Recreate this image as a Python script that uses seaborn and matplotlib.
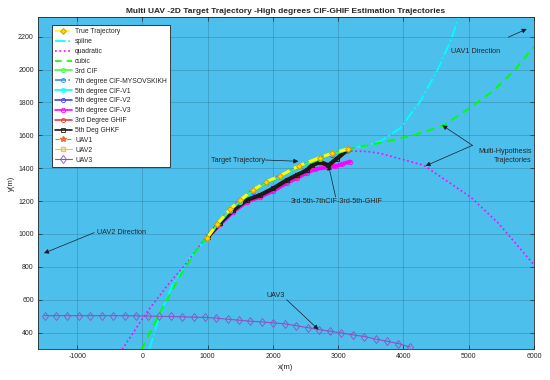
import numpy as np
import pandas as pd
import matplotlib
matplotlib.use("Agg")
import matplotlib.pyplot as plt
import seaborn as sns

# ---------------- data ----------------
true_x = [985, 1150, 1340, 1500, 1690, 1900, 2110, 2400, 2720, 2900, 3150]
true_y = [976, 1062, 1150, 1207, 1266, 1318, 1354, 1415, 1465, 1490, 1518]

cif3_y = [972, 1058, 1144, 1201, 1260, 1312, 1348, 1408, 1458, 1484, 1514]
cif7_y = [974, 1060, 1146, 1203, 1262, 1315, 1351, 1411, 1461, 1487, 1516]
cifv1_y = [970, 1055, 1141, 1197, 1256, 1308, 1344, 1404, 1455, 1481, 1512]
cifv2_y = [971, 1056, 1142, 1199, 1258, 1310, 1346, 1406, 1456, 1482, 1513]

low_x = [1005, 1185, 1390, 1595, 1800, 2005, 2210, 2364, 2518, 2595, 2723, 2851, 2980, 3133]
ghkf_y = [984, 1065, 1145, 1206, 1236, 1277, 1327, 1358, 1388, 1418, 1438, 1418, 1459, 1509]
ghif_y = [982, 1062, 1141, 1201, 1232, 1273, 1322, 1354, 1384, 1413, 1433, 1414, 1455, 1505]
cifv3_x = [1005, 1185, 1390, 1595, 1800, 2005, 2210, 2364, 2518, 2650, 2830, 2950, 3060, 3180]
cifv3_y = [980, 1058, 1135, 1195, 1225, 1262, 1310, 1340, 1372, 1395, 1405, 1412, 1425, 1440]

spline_x = [108, 262, 450, 700, 985, 1340, 1690, 2110, 2720, 3150, 3400, 3646, 3954, 4262, 4518, 4723, 4846]
spline_y = [300, 500, 680, 840, 976, 1150, 1266, 1354, 1465, 1518, 1535, 1565, 1645, 1810, 1995, 2175, 2320]

quad_x = [-310, 60, 370, 680, 925, 1340, 1690, 2110, 2720, 3133, 3441, 3646, 4310, 5030, 5450, 6000]
quad_y = [297, 520, 680, 825, 955, 1153, 1272, 1358, 1467, 1505, 1502, 1490, 1418, 1224, 1067, 812]

cubic_x = [-15, 262, 570, 877, 985, 1340, 1690, 2110, 2720, 3150, 3441, 3646, 4150, 4615, 5030, 5385, 5700, 6000]
cubic_y = [297, 515, 741, 930, 976, 1148, 1264, 1352, 1464, 1518, 1539, 1555, 1600, 1660, 1770, 1875, 1995, 2140]

uav3_x = [-1500, -1325, -1150, -975, -800, -625, -450, -270, -95, 80, 260, 435, 610, 785, 960,
          1135, 1305, 1485, 1650, 1825, 2005, 2185, 2355, 2535, 2710, 2880, 3040, 3225, 3400,
          3580, 3750, 3920, 4100]
uav3_y = [503, 503, 503, 503, 503, 503, 503, 503, 502, 500, 499, 498, 496, 494, 492,
          488, 481, 475, 469, 465, 459, 453, 442, 430, 418, 408, 398, 386, 376,
          360, 347, 333, 312]
uav1_x, uav1_y = [], []   # outside the visible window
uav2_x, uav2_y = [], []   # outside the visible window

x_ticks = [-1000, 0, 1000, 2000, 3000, 4000, 5000, 6000]
y_ticks = [400, 600, 800, 1000, 1200, 1400, 1600, 1800, 2000, 2200]

title = "Multi UAV -2D Target Trajectory -High degrees CIF-GHIF Estimation Trajectories"

# ---------------- style ----------------
sns.set_style("ticks")
plt.rcParams['font.family'] = ['Liberation Sans', 'DejaVu Sans']
plt.rcParams['axes.unicode_minus'] = False

fig = plt.figure(figsize=(5.5, 3.8), dpi=100)
ax = fig.add_axes([38/550, 1-349/380, (534-38)/550, (349-17)/380])
ax.set_facecolor('#4DBFED')
ax.set_axisbelow(True)

handles = {}

def draw(name, x, y, color, **kw):
    df = pd.DataFrame({"x": x, "y": y})
    n0 = len(ax.lines)
    kw.setdefault("markeredgecolor", color)
    kw.setdefault("markeredgewidth", 0.6)
    sns.lineplot(data=df, x="x", y="y", sort=False, estimator=None, ax=ax, legend=False,
                 color=color, **kw)
    h = ax.lines[n0]
    h.set_label(name)
    handles[name] = h

draw("spline", spline_x, spline_y, '#00FFFF', linestyle='-.', linewidth=1.3, zorder=2)
draw("quadratic", quad_x, quad_y, '#FF00FF', linestyle=':', linewidth=1.2, zorder=2)
draw("cubic", cubic_x, cubic_y, '#00FF00', linestyle=(0, (4, 3)), linewidth=1.4, zorder=2)

draw("5th degree CIF-V3", cifv3_x, cifv3_y, '#FF00FF', marker='o', markersize=3.2,
     markerfacecolor='none', linewidth=2.8, zorder=3)
draw("3rd Degree GHIF", low_x, ghif_y, '#E04040', marker='o', markersize=3,
     markerfacecolor='none', linewidth=2.4, zorder=3)
draw("5th Deg GHKF", low_x, ghkf_y, '#1A1A1A', marker='s', markersize=3.5,
     markerfacecolor='none', linewidth=3.0, zorder=4)

draw("5th degree CIF-V1", true_x, cifv1_y, '#00FFFF', marker='o', markersize=3,
     markerfacecolor='none', linewidth=1.5, zorder=4)
draw("5th degree CIF-V2", true_x, cifv2_y, '#4040FF', marker='o', markersize=3,
     markerfacecolor='none', linewidth=1.2, zorder=4)
draw("7th degree CIF-MYSOVSKIKH", true_x, cif7_y, '#3A8FE0', marker='o', markersize=3,
     markerfacecolor='none', linestyle='-.', linewidth=1.2, zorder=4)
draw("3rd CIF", true_x, cif3_y, '#40FF40', marker='o', markersize=3,
     markerfacecolor='none', linewidth=1.5, zorder=4)
draw("True Trajectory", true_x, true_y, '#FFFF00', marker='D', markersize=3,
     markerfacecolor='#FFD700', markeredgecolor='#D09000', linestyle='--', linewidth=2.2, zorder=5)

(h1,) = ax.plot(uav1_x, uav1_y, color='#E87030', marker='*', markersize=4, linestyle='--',
                linewidth=0.8, label="UAV1")
(h2,) = ax.plot(uav2_x, uav2_y, color='#F0C040', marker='s', markersize=3.5,
                markerfacecolor='none', linewidth=0.8, label="UAV2")
handles["UAV1"] = h1
handles["UAV2"] = h2
draw("UAV3", uav3_x, uav3_y, '#9050C0', marker='d', markersize=4.5, markerfacecolor='none',
     linewidth=0.8, zorder=3)

order = ["True Trajectory", "spline", "quadratic", "cubic", "3rd CIF", "7th degree CIF-MYSOVSKIKH",
         "5th degree CIF-V1", "5th degree CIF-V2", "5th degree CIF-V3", "3rd Degree GHIF",
         "5th Deg GHKF", "UAV1", "UAV2", "UAV3"]
leg = ax.legend([handles[k] for k in order], order, loc='upper left',
                bbox_to_anchor=(0.028, 0.976), borderaxespad=0, fontsize=4.9,
                labelspacing=0.42, handlelength=2.4, handletextpad=0.5, borderpad=0.5,
                fancybox=False, framealpha=1, edgecolor='#202020', numpoints=1)
leg.get_frame().set_linewidth(0.6)
for lh in leg.get_lines():
    lh.set_linewidth(min(lh.get_linewidth(), 1.2))

ax.set_xlim(-1600, 6000)
ax.set_ylim(300, 2320)
ax.set_xticks(x_ticks)
ax.set_yticks(y_ticks)
ax.tick_params(direction='in', top=True, right=True, labelsize=5, length=3, width=0.5,
               colors='#262626', pad=3)
ax.grid(True, color='#1f4a66', alpha=0.35, linewidth=0.5)
for s in ax.spines.values():
    s.set_linewidth(0.6)
    s.set_color('#262626')
ax.set_xlabel("x(m)", fontsize=5.5, labelpad=3)
ax.set_ylabel("y(m)", fontsize=5.5, labelpad=2)
ax.set_title(title, fontsize=6.0, fontweight='bold', pad=3)

ap = dict(arrowstyle='-|>', color='#1a1a2a', lw=0.5, mutation_scale=7)
fs = 5.2
ax.annotate("UAV1 Direction", xy=(5888, 2247), xytext=(5100, 2108), fontsize=fs,
            ha='center', va='center', arrowprops=dict(ap, shrinkA=14, shrinkB=0))
ax.annotate("", xy=(4595, 1661), xytext=(5057, 1539), arrowprops=dict(ap, shrinkA=0, shrinkB=0))
ax.annotate("", xy=(4338, 1414), xytext=(5057, 1539), arrowprops=dict(ap, shrinkA=0, shrinkB=0))
ax.text(5960, 1473, "Multi-Hypothesis\nTrajectories", fontsize=fs, ha='right', va='center',
        linespacing=1.4)
ax.annotate("", xy=(2390, 1442), xytext=(1877, 1450), arrowprops=dict(ap, shrinkA=0, shrinkB=0))
ax.text(1877, 1445, "Target Trajectory", fontsize=fs, ha='right', va='center')
ax.annotate("", xy=(2851, 1418), xytext=(2960, 1226), arrowprops=dict(ap, shrinkA=0, shrinkB=0))
ax.text(2270, 1196, "3rd-5th-7thCIF-3rd-5th-GHIF", fontsize=fs, ha='left', va='center')
ax.annotate("", xy=(-1508, 883), xytext=(-738, 1008), arrowprops=dict(ap, shrinkA=0, shrinkB=0))
ax.text(-690, 1008, "UAV2 Direction", fontsize=fs, ha='left', va='center')
ax.annotate("", xy=(2697, 418), xytext=(2210, 600), arrowprops=dict(ap, shrinkA=0, shrinkB=0))
ax.text(2046, 628, "UAV3", fontsize=fs, ha='center', va='center')

fig.savefig("out.png", dpi=100)
